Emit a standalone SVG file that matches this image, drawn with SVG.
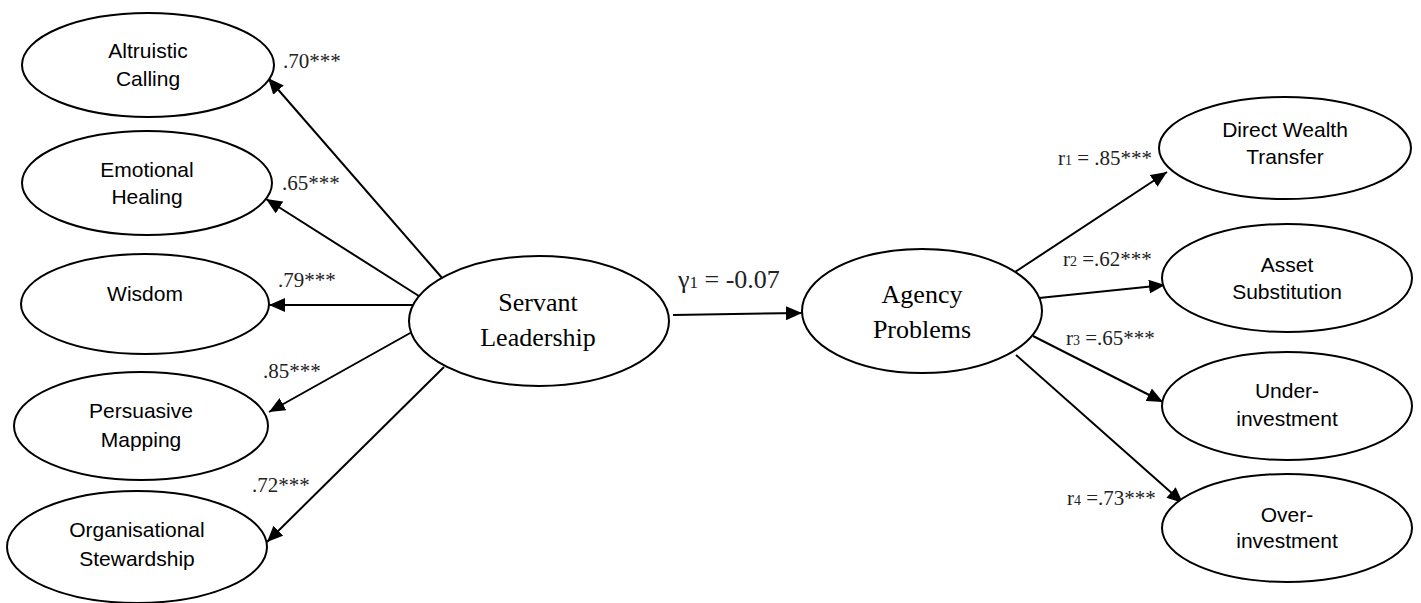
<svg xmlns="http://www.w3.org/2000/svg" width="1421" height="603" viewBox="0 0 1421 603">
<defs>
<marker id="arr" markerUnits="userSpaceOnUse" markerWidth="18" markerHeight="14" refX="16" refY="7" orient="auto">
<path d="M0,0 L16,7 L0,14 Z" fill="#000"/>
</marker>
<style>
.n ellipse{fill:#fff;stroke:#000;stroke-width:2}
.a{font-family:"Liberation Sans",Arial,sans-serif;font-size:21px;text-anchor:middle;fill:#000}
.t{font-family:"Liberation Serif","Times New Roman",serif;font-size:26px;text-anchor:middle;fill:#000}
.l{font-family:"Liberation Serif","Times New Roman",serif;font-size:21px;fill:#222}
.c line{stroke:#000;stroke-width:2;marker-end:url(#arr)}
</style>
</defs>
<rect width="1421" height="603" fill="#fff"/>
<g class="c" id="connectors">
<line x1="443" y1="279" x2="268" y2="78"/>
<line x1="422" y1="298" x2="266" y2="199"/>
<line x1="415" y1="305" x2="269" y2="305"/>
<line x1="412" y1="332" x2="269" y2="412"/>
<line x1="444" y1="367" x2="267" y2="542"/>
<line x1="673" y1="315" x2="802" y2="313"/>
<line x1="1015" y1="272" x2="1167" y2="172"/>
<line x1="1039" y1="298" x2="1165" y2="285"/>
<line x1="1033" y1="336" x2="1163" y2="402"/>
<line x1="1016" y1="355" x2="1183" y2="503"/>
</g>
<g class="n" id="altruistic">
<ellipse cx="148" cy="65" rx="126" ry="52"/>
<text class="a" x="148" y="58">Altruistic</text>
<text class="a" x="148" y="86">Calling</text>
</g>
<g class="n" id="emotional">
<ellipse cx="147" cy="183" rx="125" ry="52"/>
<text class="a" x="147" y="177">Emotional</text>
<text class="a" x="147" y="204">Healing</text>
</g>
<g class="n" id="wisdom">
<ellipse cx="145" cy="304" rx="124" ry="50"/>
<text class="a" x="145" y="301">Wisdom</text>
</g>
<g class="n" id="persuasive">
<ellipse cx="141" cy="426" rx="127" ry="54"/>
<text class="a" x="141" y="418">Persuasive</text>
<text class="a" x="141" y="447">Mapping</text>
</g>
<g class="n" id="organisational">
<ellipse cx="137" cy="547" rx="130" ry="56"/>
<text class="a" x="137" y="537">Organisational</text>
<text class="a" x="137" y="566">Stewardship</text>
</g>
<g class="n" id="servant">
<ellipse cx="539" cy="321" rx="130" ry="65"/>
<text class="t" x="538" y="311">Servant</text>
<text class="t" x="538" y="346">Leadership</text>
</g>
<g class="n" id="agency">
<ellipse cx="922" cy="311" rx="120" ry="62"/>
<text class="t" x="922" y="303">Agency</text>
<text class="t" x="922" y="338">Problems</text>
</g>
<g class="n" id="dwt">
<ellipse cx="1285" cy="148" rx="126" ry="51"/>
<text class="a" x="1285" y="137">Direct Wealth</text>
<text class="a" x="1285" y="164">Transfer</text>
</g>
<g class="n" id="asset">
<ellipse cx="1287" cy="278" rx="125" ry="54"/>
<text class="a" x="1287" y="272">Asset</text>
<text class="a" x="1287" y="299">Substitution</text>
</g>
<g class="n" id="under">
<ellipse cx="1287" cy="406" rx="125" ry="54"/>
<text class="a" x="1287" y="398">Under-</text>
<text class="a" x="1287" y="426">investment</text>
</g>
<g class="n" id="over">
<ellipse cx="1287" cy="528" rx="125" ry="54"/>
<text class="a" x="1287" y="522">Over-</text>
<text class="a" x="1287" y="548">investment</text>
</g>
<g id="labels">
<text class="l" x="283" y="68">.70***</text>
<text class="l" x="282" y="190">.65***</text>
<text class="l" x="278" y="287">.79***</text>
<text class="l" x="263" y="378">.85***</text>
<text class="l" x="252" y="492">.72***</text>
<text class="l" x="678" y="288" style="font-size:26px">γ<tspan font-size="17">1</tspan> = -0.07</text>
<text class="l" x="1058" y="165">r<tspan font-size="14">1</tspan> = .85***</text>
<text class="l" x="1063" y="266">r<tspan font-size="14">2</tspan> =.62***</text>
<text class="l" x="1066" y="345">r<tspan font-size="14">3</tspan> =.65***</text>
<text class="l" x="1067" y="505">r<tspan font-size="14">4</tspan> =.73***</text>
</g>
</svg>
